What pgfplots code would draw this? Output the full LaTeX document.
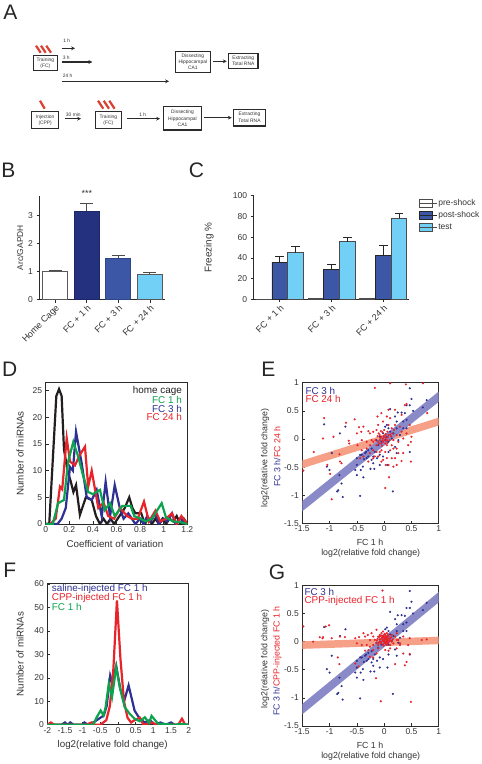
\documentclass[border=0pt]{standalone}
\usepackage{pgfplots}
\usepackage{pgfplotstable}
\usepackage{fontspec}
\usetikzlibrary{arrows.meta}
\setmainfont{Liberation Sans}
\pgfplotsset{compat=1.18}
\definecolor{txt}{HTML}{333333}
\definecolor{axc}{HTML}{2B2B2B}
\definecolor{nvy}{HTML}{23317E}
\definecolor{mblue}{HTML}{3B57A6}
\definecolor{cyn}{HTML}{72CFF5}
\definecolor{sblue}{HTML}{2E3192}
\definecolor{sred}{HTML}{E8232A}
\definecolor{sgreen}{HTML}{0DA34E}
\definecolor{sblack}{HTML}{231F20}
\definecolor{bandb}{HTML}{8A8AC8}
\definecolor{bandr}{HTML}{F6A088}
\definecolor{slash}{HTML}{D9402F}
\pgfplotstableread{
x y
-1.10 .26
-.81 .10
-.71 .22
.47 .90
.50 .71
.41 .60
.47 .60
.78 .69
.71 .56
.11 .53
.25 .47
.32 .47
.38 .46
.20 .40
.23 .31
.35 .31
.41 .34
.53 .50
.02 .22
.05 .25
.08 .19
.11 .13
.17 .10
-.02 .10
-.08 .04
-.05 -.05
.02 -.02
.08 -.05
-.11 -.11
-.17 -.23
-.23 -.17
-.29 -.20
-.35 -.25
-.41 -.28
-.29 -.31
-.23 -.37
-.20 -.43
-.25 -.53
-.18 -.53
-.32 -.34
-.44 -.28
-.53 -.55
-.50 -.64
-.43 -.55
-.38 -.68
-1.05 -.49
-1.0 -.55
-.96 -.25
-.82 -.64
-.78 -.79
-.84 -.91
-.86 -.93
-.76 -1.03
-.44 -1.01
.16 -.93
.47 -.23
.20 -.14
.23 -.25
.08 -.23
-.08 -.28
-.02 -.31
-.08 -.46
.06 -.46
-.50 -.46
-.37 -.36
-.33 -.23
-.13 -.34
-.20 -.31
.26 -.02
.29 .07
.35 .19
.41 .19
.23 .19
.14 .01
.05 .04
-.14 -.02
-.50 -.34
-.39 -.49
}\bluepts
\pgfplotstableread{
x y
-.17 .91
.11 .99
.40 .97
.71 .99
-1.10 .37
-.70 .29
-.54 .35
-.46 .21
-.38 .22
-.42 .13
-.29 .14
-.93 .04
-1.12 .01
-1.29 -.23
-.65 -.03
-.64 -.08
-.50 .10
-.49 -.11
-.41 -.02
-.32 -.05
-.26 .10
-.20 .13
-.14 .16
-.12 .40
-.05 .46
.05 .40
.08 .52
.20 .52
-.11 .25
-.02 .31
.11 .37
.41 .62
.38 .60
.32 .43
.29 .22
.47 .25
.50 .04
.49 -.05
.44 -.11
.79 .46
-.08 .07
-.05 .04
-.02 .01
.02 .07
.05 -.02
.08 .07
-.08 -.02
-.11 -.05
-.05 -.08
-.02 -.05
.02 -.08
.05 -.11
-.14 -.11
-.20 -.05
-.23 -.02
-.26 -.11
-.32 -.17
-.38 -.31
-.44 -.34
-.41 -.20
-.82 -.27
-.78 -.43
-.81 -.40
-.99 -.62
-1.04 -.46
-1.48 -.56
-.96 -1.07
.02 -.87
.09 -.68
-.02 -.37
.03 -.46
.08 -.46
.17 -.49
.23 -.46
.14 -.34
.20 -.34
.26 -.25
.32 -.39
.49 -.40
.11 -.20
.17 -.17
.23 -.17
.02 -.23
-.08 -.23
-.05 -.20
-.14 -.23
-.20 -.20
-.17 -.31
-.11 -.31
-.05 -.40
.32 .13
.23 .07
.17 -.02
.14 -.11
.35 .01
.26 -.05
.08 .25
.14 .19
.41 .10
.20 .25
-.20 -.34
-.26 -.25
-.29 -.40
.35 -.25
.05 -.34
-.03 .12
.0 .16
.03 .02
.06 .13
-.1 .1
-.06 .14
.01 -.02
-.01 .05
.04 -.03
.1 -.02
.13 .05
-.04 -.12
-.07 .02
-.03 -.02
.0 .04
.07 .03
.03 .09
-.12 .05
.11 .08
-.09 -.08
.06 -.07
-.16 -.02
.15 .1
.18 .16
}\redE
\pgfplotstableread{
x y
-.03 .91
-1.48 .27
-1.07 .27
-1.01 .29
-1.12 .08
-1.13 .06
-.96 .06
-.81 .09
-.72 .08
-.53 .06
-.46 .08
-.38 .15
-.35 .09
-.30 .12
-.23 .15
-.14 .21
-.26 .03
-.20 .09
-.50 -.03
-.41 -.06
-.32 -.06
-.26 -.09
-.20 -.06
-.14 -.03
-.11 .09
-.08 .12
-.05 .15
-.02 .18
.02 .12
.05 .15
.08 .09
-.05 .06
-.02 .03
.02 0
.05 .03
.08 0
.11 .06
-.08 0
-.11 -.06
-.05 -.03
-.02 -.06
.05 -.06
.11 -.06
.14 0
.17 -.03
.23 .03
.29 -.03
.35 .09
.47 .06
.69 .03
.78 .04
.23 -.12
.29 -.06
.35 -.21
.47 -.22
.20 -.40
.38 -.42
.41 -.36
-.15 -.65
-.20 -.28
-.14 -.21
-.26 -.27
-.85 -.28
-.82 -.40
-.53 -.39
-.47 -.44
-.06 -1.06
.49 -1.07
-.11 -.12
-.20 -.15
.02 -.15
.08 -.16
.23 .15
.14 .12
.20 .09
0 .12
.03 .08
.06 .06
-.03 .09
-.07 .04
0 0
.02 .04
.03 -.03
.07 .12
.10 .02
-.09 .08
-.13 .02
-.17 .03
.26 .03
.44 -.06
.11 -.12
-1.18 .08
-1.30 0
-.35 -.16
-.29 -.15
.01 .06
-.01 .03
.04 0
.06 .02
.02 -.02
-.03 .01
0 .08
.03 .1
-.04 .07
.09 .05
-.06 -.01
0 -.03
.01 .14
-.04 .11
.05 .09
.12 .02
-.1 -.02
.04 -.05
-.01 -.07
.07 -.03
-.02 .07
.03 .05
.01 .01
.06 -.01
.13 .08
-.12 .05
.16 .04
-.07 .1
}\redG
\pgfplotsset{
  panel/.style={
    scale only axis,
    anchor=north west,
    /pgf/number format/assume math mode=true,
    tick label style={font=\fontsize{8.5}{9}\selectfont,text=txt},
    label style={font=\fontsize{8.8}{10}\selectfont,text=txt},
    axis line style={axc,line width=0.9pt},
    tick style={axc,line width=0.7pt},
    major tick length=3pt,
  },
  barpanel/.style={panel,
    axis lines=left,
    axis line style={-,axc,line width=0.9pt},
    tick align=outside, tick pos=left,
    xtick={0,1,2,3},
    xticklabel style={rotate=45,anchor=north east,font=\fontsize{9}{10}\selectfont,inner sep=1pt},
  },
  boxpanel/.style={panel,
    axis line style={axc,line width=1pt},
    tick align=inside, tick pos=left,
    axis background/.style={fill=white},
    xticklabel style={yshift=1pt},
  },
  curve/.style={line width=2.2pt,line join=miter,no markers,#1},
  dotb/.style={only marks,mark=*,mark size=0.85pt,sblue,mark options={draw=none,fill=sblue}},
  dotr/.style={only marks,mark=*,mark size=0.85pt,sred,mark options={draw=none,fill=sred}},
}
\begin{document}
\begin{tikzpicture}
\path[use as bounding box] (0pt,0pt) rectangle (482pt,-764pt);

% Panel B
\begin{axis}[barpanel,
  at={(39.5pt,-195.7pt)},width=125.5pt,height=103.8pt,
  xmin=-0.5,xmax=3.48,ymin=0,ymax=3.69,
  ytick={0,1,2,3},
  xticklabels={Home Cage,FC + 1 h,FC + 3 h,FC + 24 h},
  ylabel={Arc/GAPDH},
  ylabel style={at={(axis description cs:-0.155,0.5)},anchor=center,font=\fontsize{8.4}{10}\selectfont},
]
\addplot[ybar,bar width=25.3pt,bar shift=0pt,draw=black!65,fill=white,line width=1pt,
  error bars/.cd,y dir=plus,y explicit,error bar style={black!70,line width=0.8pt},error mark options={rotate=90,mark size=6.5pt,black!70,line width=0.8pt}]
  coordinates {(0,1.0) +- (0,0.05)};
\addplot[ybar,bar width=25.3pt,bar shift=0pt,draw=nvy!80!black,fill=nvy,line width=1pt,
  error bars/.cd,y dir=plus,y explicit,error bar style={black!70,line width=0.8pt},error mark options={rotate=90,mark size=6.5pt,black!70,line width=0.8pt}]
  coordinates {(1,3.13) +- (0,0.29)};
\addplot[ybar,bar width=25.3pt,bar shift=0pt,draw=mblue!80!black,fill=mblue,line width=1pt,
  error bars/.cd,y dir=plus,y explicit,error bar style={black!70,line width=0.8pt},error mark options={rotate=90,mark size=6.5pt,black!70,line width=0.8pt}]
  coordinates {(2,1.47) +- (0,0.10)};
\addplot[ybar,bar width=25.3pt,bar shift=0pt,draw=black!65,fill=cyn,line width=1pt,
  error bars/.cd,y dir=plus,y explicit,error bar style={black!70,line width=0.8pt},error mark options={rotate=90,mark size=6.5pt,black!70,line width=0.8pt}]
  coordinates {(3,0.90) +- (0,0.06)};
\end{axis}

% Panel C
\begin{axis}[barpanel,
  at={(253.7pt,-195.7pt)},width=155.6pt,height=103.6pt,
  xmin=-0.502,xmax=2.502,ymin=0,ymax=100,
  ytick={0,20,40,60,80,100},
  xtick={0,1,2},
  xticklabels={FC + 1 h,FC + 3 h,FC + 24 h},
  ylabel={Freezing \%},
  ylabel style={at={(axis description cs:-0.287,0.5)},anchor=center,font=\fontsize{9.9}{11}\selectfont},
  legend style={at={(1.065,0.975)},anchor=north west,draw=none,fill=none,font=\fontsize{8.5}{10}\selectfont,text=txt,row sep=2.8pt,inner sep=0pt,outer sep=0pt,nodes={inner sep=1pt}},
  legend cell align=left,
  legend image code/.code={\draw[#1,line width=0.9pt] (0pt,-3.9pt) rectangle (13pt,3.9pt);\path (0pt,0pt) -- (17pt,0pt);},
]
\addplot[ybar,bar width=15.5pt,bar shift=0pt,draw=black!70,fill=white,line width=0.9pt]
  coordinates {(-0.305,0.3) (0.695,0.4) (1.695,0.6)};
\addplot[ybar,bar width=15.5pt,bar shift=0pt,draw=black!85,fill=mblue,line width=0.9pt,
  error bars/.cd,y dir=plus,y explicit,error bar style={black!85,line width=0.8pt},error mark options={rotate=90,mark size=4.3pt,black!85,line width=0.8pt}]
  coordinates {(0,36) +- (0,5) (1,29) +- (0,5) (2,42) +- (0,10.5)};
\addplot[ybar,bar width=15.5pt,bar shift=0pt,draw=black!70,fill=cyn,line width=0.9pt,
  error bars/.cd,y dir=plus,y explicit,error bar style={black!85,line width=0.8pt},error mark options={rotate=90,mark size=4.3pt,black!85,line width=0.8pt}]
  coordinates {(0.305,45) +- (0,6.5) (1.305,55.5) +- (0,4.5) (2.305,78) +- (0,5)};
\legend{pre-shock,post-shock,test}
\end{axis}

% Panel D
\begin{axis}[boxpanel,
  at={(45.7pt,-382.7pt)},width=141.6pt,height=141.3pt,
  xmin=0,xmax=1.2,ymin=0,ymax=26.5,
  xtick={0,0.2,0.4,0.6,0.8,1,1.2},
  ytick={5,10,15,20,25},
  extra y ticks={0},
  xlabel={Coefficient of variation},
  ylabel={Number of miRNAs},
  xlabel style={at={(axis description cs:0.489,-0.1415)},anchor=center,font=\fontsize{9.8}{11}\selectfont},
  ylabel style={at={(axis description cs:-0.181,0.5)},anchor=center,font=\fontsize{9.8}{11}\selectfont},
]
\addplot[curve=sblack] coordinates {(0,0)(.03,0)(.09,24)(.113,25.3)(.135,24)(.155,14)(.185,10)(.212,8)(.235,6)(.257,7.3)(.29,1.7)(.34,5)(.39,4.5)(.426,1.5)(.46,0)(.49,1)(.52,0)(.55,1)(.58,0)(.61,1)(.64,2)(.67,3)(.708,5)(.735,3)(.76,2)(.81,2)(.84,0)(.87,1)(.9,0)(.93,1)(.96,0)(.99,1)(1.02,0)(1.05,1)(1.08,.5)(1.11,1.5)(1.14,0)(1.17,1)(1.2,0)};
\addplot[curve=sblue] coordinates {(0,0)(.05,0)(.10,0)(.135,1)(.17,3)(.206,10.7)(.23,10)(.257,17.3)(.305,11.4)(.347,5.1)(.39,4.5)(.432,6.4)(.475,1.4)(.508,7.9)(.545,1.4)(.585,7.3)(.63,2.8)(.66,1)(.7,2)(.73,1)(.76,0)(.8,1)(.83,0)(.86,1.5)(.89,.5)(.93,2)(.96,0)(1.0,1)(1.03,.5)(1.07,2)(1.1,0)(1.14,1)(1.2,0)};
\addplot[curve=sred] coordinates {(0,0)(.04,0)(.085,1)(.121,7)(.14,6.5)(.178,16.1)(.206,11.7)(.248,11)(.29,13)(.333,14.5)(.36,7)(.39,10)(.446,3)(.49,4)(.53,1.5)(.58,1)(.63,3)(.69,1.5)(.73,1)(.78,1)(.833,4.2)(.875,.5)(.93,2.5)(.97,.5)(1.02,1)(1.07,2)(1.11,0)(1.15,1.5)(1.2,0)};
\addplot[curve=sgreen] coordinates {(0,0)(.06,0)(.105,3.9)(.155,4.5)(.19,11.7)(.234,15.4)(.276,12.6)(.319,8.9)(.36,6)(.4,5.6)(.46,6.4)(.5,2.6)(.545,3.9)(.585,1.5)(.65,3.4)(.72,3.4)(.75,1.5)(.85,.5)(.9,1)(.983,3.9)(1.02,1.2)(1.08,.5)(1.15,.3)(1.2,0)};
\end{axis}

% Panel E
\begin{axis}[boxpanel,
  at={(302.3pt,-382.7pt)},width=136.4pt,height=140.8pt,
  xmin=-1.5,xmax=1,ymin=-1.5,ymax=1,
  xtick={-1.5,-1,-0.5,0,0.5,1},
  ytick={-1.5,-1,-0.5,0,0.5,1},
]
\addplot[bandr,line width=7.5pt,no markers] coordinates {(-1.6,-0.48)(1.1,0.34)};
\addplot[bandb,line width=8pt,no markers] coordinates {(-1.6,-1.27)(1.1,0.83)};
\addplot[dotb] table[x=x,y=y] {\bluepts};
\addplot[dotr] table[x=x,y=y] {\redE};
\end{axis}

% Panel F
\begin{axis}[boxpanel,
  at={(47.3pt,-583.3pt)},width=141.4pt,height=141.5pt,
  xmin=-2,xmax=2,ymin=0,ymax=60.3,
  xtick={-2,-1.5,-1,-0.5,0,0.5,1,1.5,2},
  ytick={0,10,20,30,40,50,60},
  xlabel={log2(relative fold change)},
  ylabel={Number of miRNAs},
  xlabel style={at={(axis description cs:0.4625,-0.142)},anchor=center,font=\fontsize{9.8}{11}\selectfont},
  ylabel style={at={(axis description cs:-0.193,0.5)},anchor=center,font=\fontsize{9.8}{11}\selectfont},
]
\addplot[curve=sblue] coordinates {(-2,0)(-1.6,0)(-1.5,1)(-1.42,0)(-1.35,1)(-1.25,0)(-1,0)(-.95,1)(-.85,0)(-.7,1)(-.6,2)(-.5,3)(-.4,4)(-.32,8)(-.22,21)(-.16,18)(-.05,25)(.07,15)(.19,11)(.3,16.8)(.47,6)(.6,3)(.75,1)(.9,2)(1.05,0)(1.2,1)(1.35,0)(1.5,1)(1.6,0)(2,0)};
\addplot[curve=sred] coordinates {(-2,0)(-1.9,1)(-1.8,0)(-1.4,0)(-.9,0)(-.75,1)(-.65,0)(-.5,0)(-.33,2)(-.23,8)(-.13,24)(-.03,53)(.07,28)(.17,10)(.27,3)(.37,1)(.47,2)(.62,3)(.72,0)(.95,1)(1.1,0)(1.5,0)(1.7,0)(1.81,2.6)(1.9,0)(2,0)};
\addplot[curve=sgreen] coordinates {(-2,0)(-1.2,0)(-.7,0)(-.6,3.3)(-.49,6.1)(-.41,4)(-.35,7.5)(-.26,17.6)(-.17,11.8)(-.05,24.6)(.05,16)(.19,7.5)(.33,4.7)(.47,2.6)(.62,1.5)(.76,3.2)(.88,.8)(.95,3.8)(1.13,.5)(1.35,.3)(1.6,0)(1.8,.4)(2,0)};
\end{axis}

% Panel G
\begin{axis}[boxpanel,
  at={(302.3pt,-585.4pt)},width=136.4pt,height=140.6pt,
  xmin=-1.5,xmax=1,ymin=-1.5,ymax=1,
  xtick={-1.5,-1,-0.5,0,0.5,1},
  ytick={-1.5,-1,-0.5,0,0.5,1},
]
\addplot[bandr,line width=7.5pt,no markers] coordinates {(-1.6,-0.065)(1.1,0.025)};
\addplot[bandb,line width=8pt,no markers] coordinates {(-1.6,-1.28)(1.1,0.87)};
\addplot[dotb] table[x=x,y=y] {\bluepts};
\addplot[dotr] table[x=x,y=y] {\redG};
\end{axis}

\begin{scope}[x=1pt,y=-1pt]
  % panel letters
  \foreach \l/\xx/\yy in {A/10.5/12,B/8.3/170.5,C/196.5/170.5,D/9.7/369,E/268.3/369,F/9.8/570.5,G/277/572}{
    \node[font=\fontsize{21}{21}\selectfont,text=black!85,inner sep=0pt] at (\xx,\yy) {\l};
  }
  % labels outside the axes
  \node[font=\fontsize{9}{10}\selectfont,text=txt] at (87,193) {***};
  % D
  \begin{scope}[font=\fontsize{9.9}{10}\selectfont,inner sep=0pt]
    \node[anchor=east,text=sblack] at (182,391) {home cage};
    \node[anchor=east,text=sgreen] at (182,400) {FC 1 h};
    \node[anchor=east,text=sblue] at (182,408.7) {FC 3 h};
    \node[anchor=east,text=sred] at (182,417.3) {FC 24 h};
    % E
    \node[anchor=west,text=sblue] at (305.3,390.7) {FC 3 h};
    \node[anchor=west,text=sred] at (305.3,399.3) {FC 24 h};
    % F
    \node[anchor=west,text=sblue] at (51.7,589.3) {saline-injected FC 1 h};
    \node[anchor=west,text=sred] at (51.7,598.3) {CPP-injected FC 1 h};
    \node[anchor=west,text=sgreen] at (51.7,607.3) {FC 1 h};
    % G
    \node[anchor=west,text=sblue] at (304.3,592) {FC 3 h};
    \node[anchor=west,text=sred] at (304.3,601.3) {CPP-injected FC 1 h};
  \end{scope}
  \begin{scope}[font=\fontsize{8.8}{10}\selectfont,text=txt,inner sep=0pt]
    \node[rotate=90] at (265,458) {log2(relative fold change)};
    \node[rotate=90] at (277.3,456.7) {\textcolor{sblue}{FC 3 h/}\textcolor{sred}{FC 24 h}};
    \node at (370,542) {FC 1 h};
    \node at (370.7,553) {log2(relative fold change)};
    \node[rotate=90] at (265,659) {log2(relative fold change)};
    \node[rotate=90] at (277.3,661) {\textcolor{sblue}{FC 3 h/}\textcolor{sred}{CPP-injected FC 1 h}};
    \node at (370,745) {FC 1 h};
    \node at (370.7,756) {log2(relative fold change)};
  \end{scope}
  % Panel A schematic
  \begin{scope}[line width=1pt,draw=axc]
    \tikzset{bx/.style={draw=axc,line width=1.2pt,fill=white},
      ar/.style={draw=axc,line width=1.1pt,-{Stealth[length=3.8pt,width=3.8pt]}},
      rs/.style={draw=slash,line width=2.2pt},
      tl/.style={font=\fontsize{4.9}{5}\selectfont,text=txt,inner sep=0pt}}
    \foreach \a in {36,41,46.3}{\draw[rs] (\a,45.7) -- (\a+4.7,52.7);}
    \draw[bx] (33.3,55.3) rectangle (57.3,70.7);
    \node[tl] at (45.3,60.3) {Training};
    \node[tl] at (45.3,66) {(FC)};
    \draw[ar] (61.7,48.3) -- (75,48.3);
    \node[tl] at (66.7,41) {1 h};
    \draw[ar] (61.7,62) -- (92.3,62);
    \node[tl] at (66.3,58) {3 h};
    \draw[ar] (61.7,81.3) -- (169,81.3);
    \node[tl] at (67.7,76) {24 h};
    \draw[bx] (175.3,51.3) rectangle (210.3,72.3);
    \node[tl] at (192.8,56.3) {Dissecting};
    \node[tl] at (192.8,62.3) {Hippocampal};
    \node[tl] at (192.8,68.3) {CA1};
    \draw[ar] (212.7,61.3) -- (226.7,61.3);
    \draw[bx] (228.7,53.3) rectangle (258,68.7);
    \node[tl] at (243.3,58) {Extracting};
    \node[tl] at (243.3,64) {Total RNA};
    \draw[rs] (40,100.7) -- (44.7,108.7);
    \draw[bx] (31.7,111.7) rectangle (58.7,128.3);
    \node[tl] at (45.2,117.3) {Injection};
    \node[tl] at (45.2,123.3) {(CPP)};
    \draw[ar] (65,118.7) -- (81,118.7);
    \node[tl] at (73.3,114.3) {30 min};
    \foreach \a in {98,103.7,109.3}{\draw[rs] (\a,100.7) -- (\a+5.3,108.7);}
    \draw[bx] (95.3,111.7) rectangle (121.3,128.3);
    \node[tl] at (108.3,117.3) {Training};
    \node[tl] at (108.3,123.3) {(FC)};
    \draw[ar] (127.3,118.7) -- (160,118.7);
    \node[tl] at (142.7,114.3) {1 h};
    \draw[bx] (163.3,106.7) rectangle (201.7,130);
    \node[tl] at (182.5,112.3) {Dissecting};
    \node[tl] at (182.5,119) {Hippocampal};
    \node[tl] at (182.5,125.3) {CA1};
    \draw[ar] (204.3,117.7) -- (231.7,117.7);
    \draw[bx] (233.7,109.3) rectangle (265.3,126);
    \node[tl] at (249.5,114.7) {Extracting};
    \node[tl] at (249.5,121) {Total RNA};
  \end{scope}
\end{scope}
\end{tikzpicture}
\end{document}
